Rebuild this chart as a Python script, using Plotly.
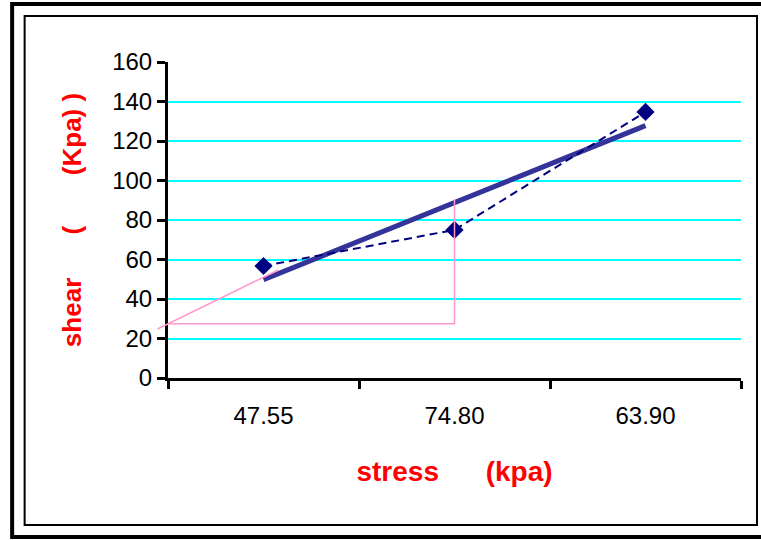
import numpy as np
import plotly.graph_objects as go

# ---- data ----
categories = ["47.55", "74.80", "63.90"]
shear_values = [56.7, 75.0, 134.7]
y_tick_vals = [0, 20, 40, 60, 80, 100, 120, 140, 160]

# hand-drawn pink construction lines (category index, shear value)
pink_diag_x = [-0.555, 0.078]
pink_diag_y = [24.8, 54.7]
pink_box_x = [-0.5, 1.0, 1.0]
pink_box_y = [27.5, 27.5, 90.5]

x_title = "stress" + "\u00a0" * 6 + "(kpa)"
y_title = "shear" + "\u00a0" * 6 + "(" + "\u00a0" * 7 + "(Kpa)" + "\u00a0" + ")"

# ---- layout geometry ----
W, H = 761, 540
L, R, T, B = 167.5, 20, 62, 162
YMAX = 160
NCAT = len(categories)

# linear trendline over category positions
idx = np.arange(1, NCAT + 1)
slope, intercept = np.polyfit(idx, shear_values, 1)
trend_y = [slope * 1 + intercept, slope * NCAT + intercept]

fig = go.Figure()

fig.add_trace(go.Scatter(
    x=[categories[0], categories[-1]], y=trend_y, mode="lines",
    line=dict(color="#333399", width=5), hoverinfo="skip", showlegend=False))

fig.add_trace(go.Scatter(
    x=categories, y=shear_values, mode="lines+markers",
    line=dict(color="#000080", width=2, dash="8px,5px"),
    marker=dict(symbol="diamond", size=14, color="#000080"),
    showlegend=False, cliponaxis=False))


def to_paper_x(c):
    return (c + 0.5) / NCAT


def to_paper_y(v):
    return v / YMAX


shapes = []
shapes.append(dict(type="line", xref="paper", yref="paper",
                   x0=to_paper_x(pink_diag_x[0]), y0=to_paper_y(pink_diag_y[0]),
                   x1=to_paper_x(pink_diag_x[1]), y1=to_paper_y(pink_diag_y[1]),
                   line=dict(color="#FF99CC", width=1.5)))
path = "M " + " L ".join(f"{to_paper_x(a)} {to_paper_y(b)}" for a, b in zip(pink_box_x, pink_box_y))
shapes.append(dict(type="path", xref="paper", yref="paper", path=path,
                   line=dict(color="#FF99CC", width=1.5)))

pw = W - L - R
ph = H - T - B


def px2paper_x(px):
    return (px - L) / pw


def px2paper_y(py):
    return (H - B - py) / ph


# chart frames
shapes.append(dict(type="rect", xref="paper", yref="paper",
                   x0=px2paper_x(11.5), x1=px2paper_x(775), y0=px2paper_y(4), y1=px2paper_y(537),
                   line=dict(color="black", width=4), layer="below"))
shapes.append(dict(type="rect", xref="paper", yref="paper",
                   x0=px2paper_x(24), x1=px2paper_x(757), y0=px2paper_y(16), y1=px2paper_y(525),
                   line=dict(color="black", width=2), layer="below"))

fig.update_layout(
    width=W, height=H,
    margin=dict(l=L, r=R, t=T, b=B),
    paper_bgcolor="white", plot_bgcolor="white",
    font=dict(family="Liberation Sans, Arial, sans-serif", color="black"),
    shapes=shapes,
    showlegend=False,
)

fig.update_xaxes(
    type="category", categoryorder="array", categoryarray=categories,
    range=[-0.5, NCAT - 0.5],
    showline=True, linecolor="black", linewidth=3,
    ticks="outside", tickson="boundaries", ticklen=8, tickwidth=3, tickcolor="black",
    showgrid=False, zeroline=False,
    tickfont=dict(size=24, color="black"),
    ticklabelstandoff=14,
    title=dict(text=x_title, font=dict(size=28, color="#FF0000", weight="bold"), standoff=34),
)
fig.update_yaxes(
    range=[0, YMAX], tickvals=y_tick_vals,
    showline=True, linecolor="black", linewidth=3,
    ticks="outside", ticklen=8, tickwidth=3, tickcolor="black",
    showgrid=True, gridcolor="#00FFFF", gridwidth=2,
    zeroline=False,
    tickfont=dict(size=24, color="black"),
    title=dict(text=y_title, font=dict(size=26, color="#FF0000", weight="bold"), standoff=24),
)

fig.write_html("out.html")
